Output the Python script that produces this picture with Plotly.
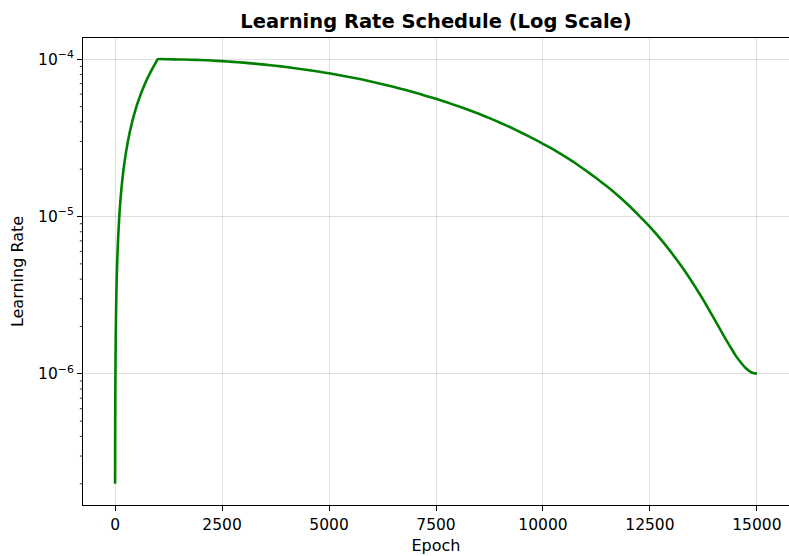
import plotly.graph_objects as go

epochs = [0, 1, 2, 3, 5, 7, 10, 15, 20, 30, 40, 50, 75, 100, 125, 150, 175, 200, 250, 300, 350, 400, 450,
          500, 550, 600, 650, 700, 750, 800, 850, 900, 950, 1000,
          1250, 1500, 1750, 2000, 2250, 2500, 2750, 3000, 3250, 3500, 3750, 4000, 4250, 4500, 4750, 5000,
          5250, 5500, 5750, 6000, 6250, 6500, 6750, 7000, 7250, 7500, 7750, 8000, 8250, 8500, 8750, 9000,
          9250, 9500, 9750, 10000, 10250, 10500, 10750, 11000, 11250, 11500, 11750, 12000, 12250, 12500,
          12750, 13000, 13250, 13500, 13625, 13750, 13875, 14000, 14125, 14250, 14375, 14500, 14625, 14750,
          14875, 15000]
lr = [2.0e-7, 3.0e-7, 4.0e-7, 5.0e-7, 7.0e-7, 9.0e-7, 1.2e-6, 1.7e-6, 2.2e-6, 3.2e-6, 4.2e-6, 5.2e-6,
      7.7e-6, 1.02e-5, 1.27e-5, 1.52e-5, 1.77e-5, 2.02e-5, 2.52e-5, 3.01e-5, 3.51e-5, 4.01e-5, 4.51e-5,
      5.01e-5, 5.50e-5, 6.00e-5, 6.50e-5, 7.00e-5, 7.50e-5, 8.00e-5, 8.50e-5, 9.00e-5, 9.50e-5, 1.0e-4,
      9.99e-5, 9.97e-5, 9.93e-5, 9.88e-5, 9.81e-5, 9.72e-5, 9.62e-5, 9.51e-5, 9.38e-5, 9.24e-5, 9.09e-5,
      8.92e-5, 8.74e-5, 8.55e-5, 8.35e-5, 8.14e-5, 7.92e-5, 7.68e-5, 7.45e-5, 7.20e-5, 6.94e-5, 6.68e-5,
      6.42e-5, 6.15e-5, 5.87e-5, 5.60e-5, 5.32e-5, 5.05e-5, 4.77e-5, 4.50e-5, 4.22e-5, 3.95e-5, 3.68e-5,
      3.41e-5, 3.15e-5, 2.90e-5, 2.66e-5, 2.42e-5, 2.19e-5, 1.96e-5, 1.75e-5, 1.55e-5, 1.36e-5, 1.18e-5,
      1.01e-5, 8.59e-6, 7.18e-6, 5.90e-6, 4.77e-6, 3.78e-6, 3.34e-6, 2.94e-6, 2.57e-6, 2.24e-6, 1.95e-6,
      1.70e-6, 1.49e-6, 1.31e-6, 1.18e-6, 1.08e-6, 1.02e-6, 1.0e-6]

x_ticks = [0, 2500, 5000, 7500, 10000, 12500, 15000]
y_ticks = [1e-6, 1e-5, 1e-4]
y_tick_text = ["10<sup>−6</sup>", "10<sup>−5</sup>", "10<sup>−4</sup>"]
minor_y = [m * 10 ** e for e in (-7, -6, -5) for m in range(2, 10) if m * 10 ** e >= 1.5e-7]

FONT = "DejaVu Sans"
PLOT_W = 789 - 83

fig = go.Figure()
fig.add_trace(go.Scatter(x=epochs, y=lr, mode="lines",
                         line=dict(color="#008000", width=2.6, shape="spline", smoothing=0.4),
                         showlegend=False, hoverinfo="x+y"))

# minor log ticks on the y axis
for v in minor_y:
    fig.add_shape(type="line", xref="paper", yref="y", x0=0, x1=-3.2 / PLOT_W, y0=v, y1=v,
                  line=dict(color="black", width=0.8), layer="above")

ylog_range = [-6.834, -3.865]
fig.update_layout(
    width=789, height=556,
    margin=dict(l=83, r=0, t=38, b=51),
    paper_bgcolor="white", plot_bgcolor="white",
    font=dict(family=FONT, size=15.5, color="black"),
    title=dict(text="<b>Learning Rate Schedule (Log Scale)</b>", x=(83 + 789) / 2 / 789, xanchor="center",
               y=1 - 21 / 556, yanchor="middle", font=dict(family=FONT, size=19.5, color="black")),
    xaxis=dict(range=[-750, 15750], tickvals=x_ticks, ticktext=[str(v) for v in x_ticks],
               showgrid=True, gridcolor="rgba(0,0,0,0.12)", gridwidth=1, zeroline=False,
               ticks="outside", ticklen=5, tickwidth=1.1, tickcolor="black",
               showline=True, linecolor="black", linewidth=1.1, mirror=True,
               title=dict(text="Epoch", font=dict(family=FONT, size=16), standoff=7),
               tickfont=dict(family=FONT, size=15.5)),
    yaxis=dict(type="log", range=ylog_range, tickvals=y_ticks, ticktext=y_tick_text,
               showgrid=True, gridcolor="rgba(0,0,0,0.12)", gridwidth=1, zeroline=False,
               ticks="outside", ticklen=5, tickwidth=1.1, tickcolor="black",
               showline=True, linecolor="black", linewidth=1.1, mirror=True,
               title=dict(text="Learning Rate", font=dict(family=FONT, size=16), standoff=10),
               tickfont=dict(family=FONT, size=15.5)),
)

fig.write_html("out.html")
